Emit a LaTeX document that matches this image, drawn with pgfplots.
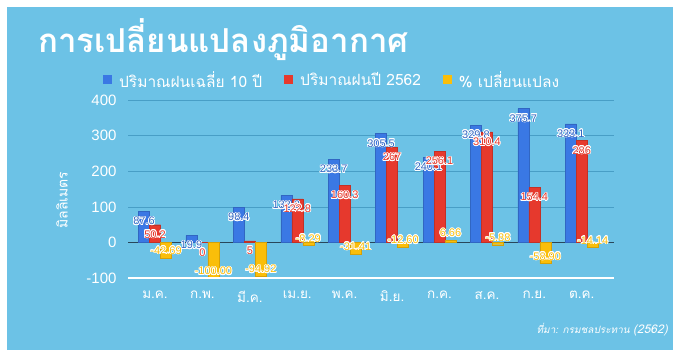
\documentclass[border=0pt]{standalone}
\usepackage{pgfplots}
\pgfplotsset{compat=1.18}
\usepackage{fontspec}
\setmainfont{Liberation Sans}
\newfontfamily\thaifont[Script=Thai]{Loma}
\usepackage{contour}
\contourlength{0.7pt}
\definecolor{bg}{RGB}{108,194,230}
\definecolor{gridc}{RGB}{72,158,198}
\definecolor{cblue}{RGB}{58,120,228}
\definecolor{cred}{RGB}{230,57,45}
\definecolor{cyel}{RGB}{250,190,10}
\definecolor{zeroc}{RGB}{40,70,90}
\begin{document}
\begin{tikzpicture}[x=1pt,y=1pt]
\path[use as bounding box] (0pt,0pt) rectangle (680pt,358pt);
\fill[white] (0pt,0pt) rectangle (680pt,358pt);
\fill[bg] (7pt,8pt) rectangle (673pt,351pt);
\node[anchor=west, text=white, inner sep=0pt, font=\thaifont\bfseries\fontsize{33}{35}\selectfont] at (38pt,318pt) {การเปลี่ยนแปลงภูมิอากาศ};
\node[rotate=90, text=white, font=\thaifont\fontsize{14}{14}\selectfont] at (62pt,158pt) {มิลลิเมตร};
\node[anchor=east, text=white, inner sep=0pt, font=\thaifont\itshape\fontsize{10}{10}\selectfont] at (668pt,28pt) {ที่มา: กรมชลประทาน {\fontsize{12}{12}\selectfont(2562)}};
\begin{axis}[
  at={(128pt,79.7pt)}, anchor=south west, scale only axis,
  width=486pt, height=178.3pt,
  ymin=-100, ymax=400, xmin=-0.57, xmax=9.68,
  ybar=0pt, bar width=11pt,
  axis line style={draw=none},
  tick style={draw=none},
  ytick={-100,0,100,200,300,400},
  ymajorgrids, grid style={gridc, line width=0.8pt},
  xtick={0,...,9},
  xticklabels={ม.ค.,ก.พ.,มี.ค.,เม.ย.,พ.ค.,มิ.ย.,ก.ค.,ส.ค.,ก.ย.,ต.ค.},
  xticklabel style={text=white, font=\thaifont\fontsize{13.5}{13.5}\selectfont, yshift=-5pt},
  yticklabel style={text=white, font=\fontsize{15}{15}\selectfont, xshift=-8pt},
  /pgf/number format/assume math mode=true,
  legend style={at={(0.42,1.112)}, anchor=center, draw=none, fill=none, text=white,
    font=\thaifont\fontsize{15.5}{15.5}\selectfont,
    /tikz/every even column/.append style={column sep=20pt}},
  legend columns=3,
  legend image code/.code={\path[draw=none, fill=none] (0pt,0pt) -- (14pt,0pt);\fill[#1, draw=none] (0pt,-4pt) rectangle (9pt,5pt);},
]
\draw[zeroc, line width=1pt] (axis cs:-0.57,0) -- (axis cs:9.68,0);
\addplot[fill=cblue, draw=cblue!85!black,
  nodes near coords={\contour{white}{\textcolor{cblue!85!black}{\pgfmathprintnumber{\pgfplotspointmeta}}}},
  nodes near coords style={anchor=center, yshift=-10pt, font=\fontsize{11}{11}\selectfont}]
  coordinates {(0,87.6) (1,19.9) (2,98.4) (3,132.2) (4,233.7) (5,305.5) (6,240.1) (7,329.8) (8,375.7) (9,333.1)};
\addlegendentry{ปริมาณฝนเฉลี่ย 10 ปี}
\addplot[fill=cred, draw=cred!85!black,
  nodes near coords={\contour{white}{\textcolor{cred}{\pgfmathprintnumber{\pgfplotspointmeta}}}},
  nodes near coords style={anchor=center, yshift=-10pt, font=\fontsize{11}{11}\selectfont}]
  coordinates {(0,50.2) (1,0) (2,5) (3,122.8) (4,160.3) (5,267) (6,256.1) (7,310.4) (8,154.4) (9,286)};
\addlegendentry{ปริมาณฝนปี 2562}
\addplot[fill=cyel, draw=cyel!85!black,
  nodes near coords={\contour{white}{\textcolor{cyel}{\pgfmathprintnumber[fixed,zerofill,precision=2]{\pgfplotspointmeta}}}},
  nodes near coords style={anchor=center, yshift=7pt, font=\fontsize{11}{11}\selectfont}]
  coordinates {(0,-42.69) (1,-100.00) (2,-94.92) (3,-8.29) (4,-31.41) (5,-12.60) (6,6.66) (7,-5.88) (8,-58.90) (9,-14.14)};
\addlegendentry{\% เปลี่ยนแปลง}
\draw[white, line width=1.8pt] (axis cs:-0.57,-100) -- (axis cs:9.68,-100);
\end{axis}
\end{tikzpicture}
\end{document}
